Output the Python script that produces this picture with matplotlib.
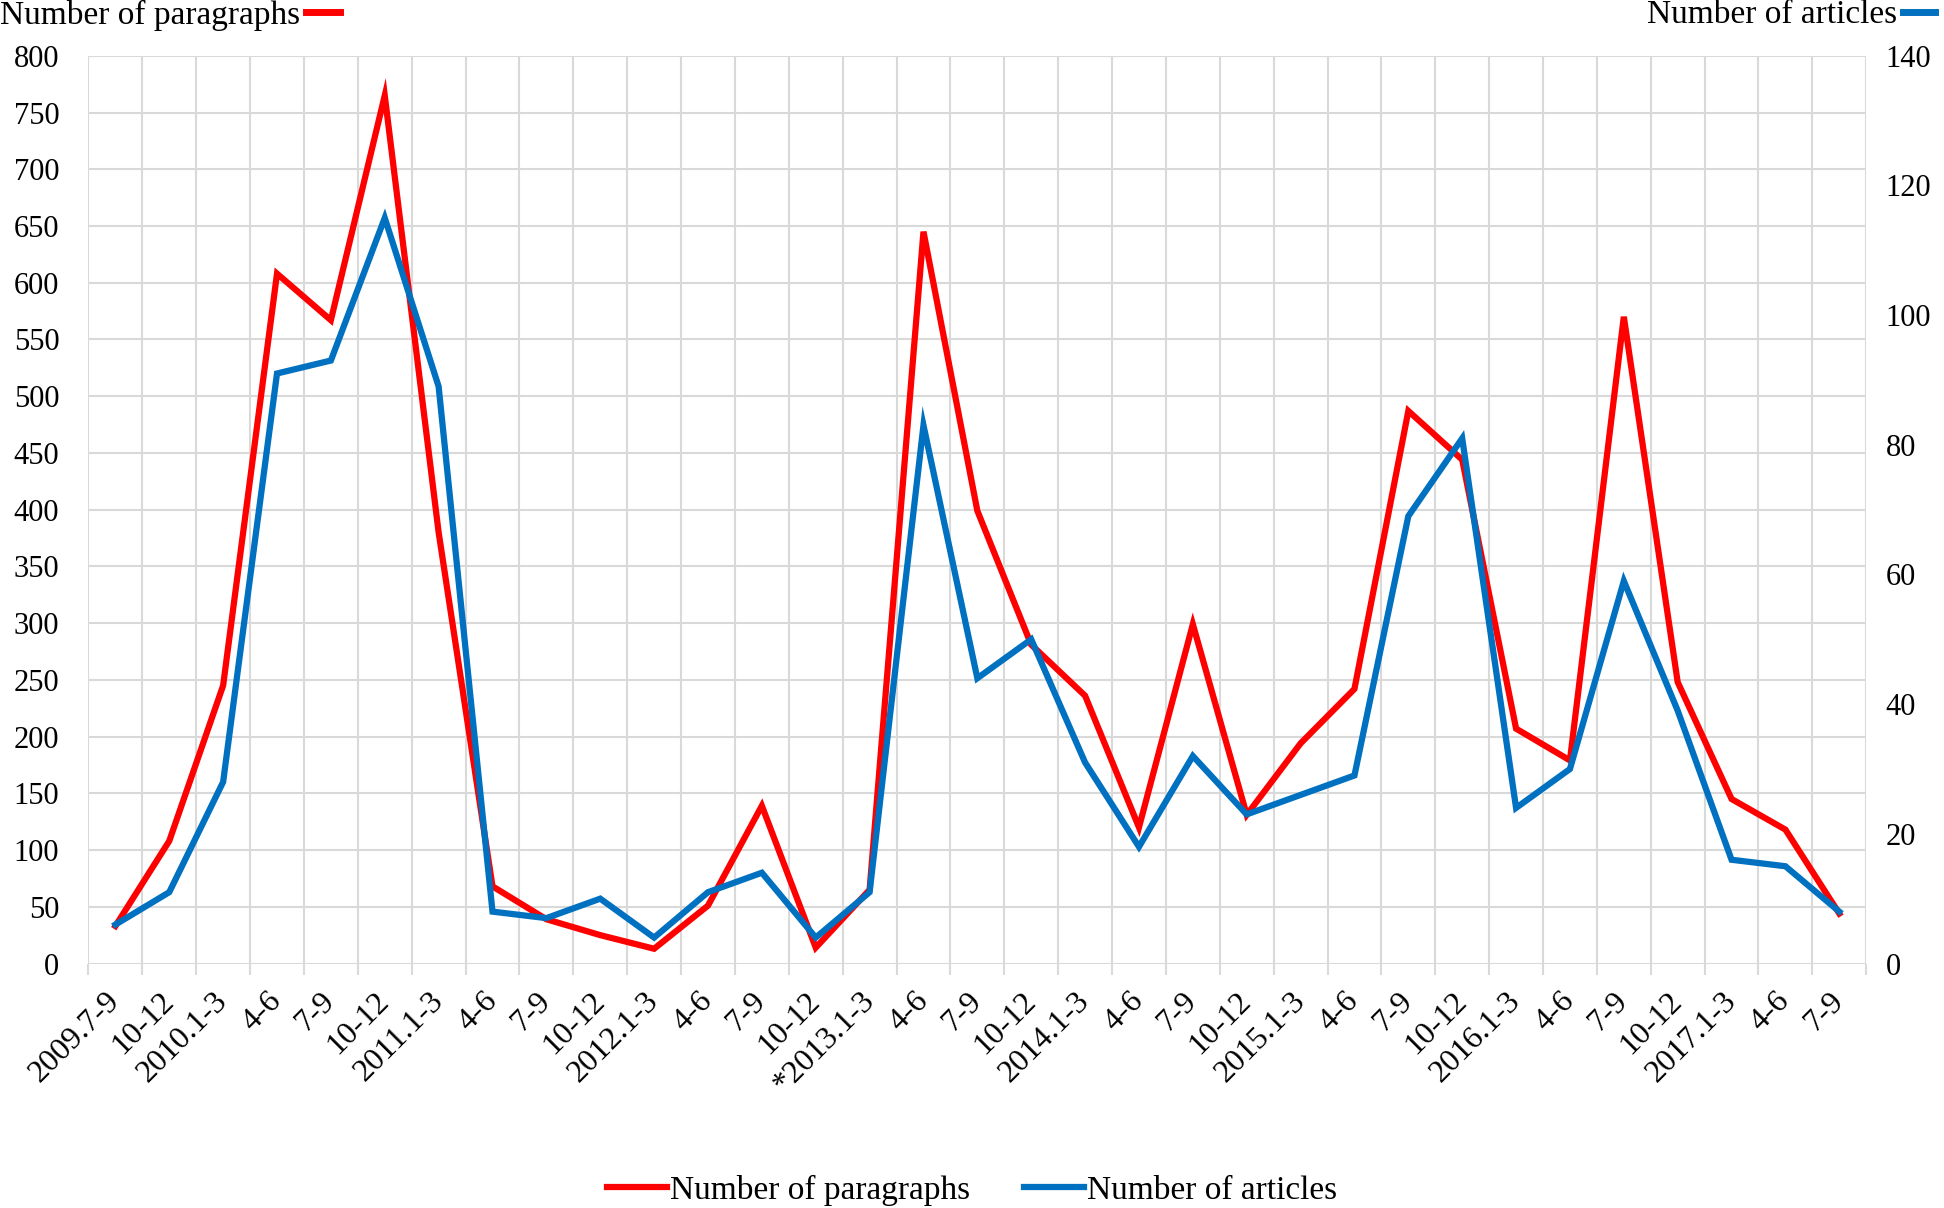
import numpy as np
import matplotlib
matplotlib.use("Agg")
import matplotlib.pyplot as plt
from matplotlib.lines import Line2D
import matplotlib.transforms as mtransforms

plt.rcParams['font.family'] = ['Liberation Serif', 'DejaVu Serif']

categories = ["2009.7-9", "10-12", "2010.1-3", "4-6", "7-9", "10-12",
              "2011.1-3", "4-6", "7-9", "10-12", "2012.1-3", "4-6", "7-9", "10-12",
              "*2013.1-3", "4-6", "7-9", "10-12", "2014.1-3", "4-6", "7-9", "10-12",
              "2015.1-3", "4-6", "7-9", "10-12", "2016.1-3", "4-6", "7-9", "10-12",
              "2017.1-3", "4-6", "7-9"]

paragraphs = [33, 108, 245, 608, 567, 765, 380, 68, 39, 25, 13, 51, 139, 14,
              65, 645, 399, 281, 236, 120, 299, 131, 194, 242, 487, 444, 207,
              179, 570, 248, 145, 118, 44]

articles = [6, 11, 28, 91, 93, 115, 89, 8, 7, 10, 4, 11, 14, 4,
            11, 83, 44, 50, 31, 18, 32, 23, 26, 29, 69, 81, 24,
            30, 59, 39, 16, 15, 8]

RED = "#FF0000"
BLUE = "#0070C0"
GRID = "#D9D9D9"
FS = 24
TFS = 22

fig = plt.figure(figsize=(19.44, 12.08), dpi=100)
ax = fig.add_axes([0.0455, 0.2024, 0.9145, 0.7514])
ax2 = ax.twinx()

x = np.arange(len(categories))
ax.plot(x, paragraphs, color=RED, lw=4.5, solid_joinstyle='miter', zorder=3)
ax2.plot(x, articles, color=BLUE, lw=4.5, solid_joinstyle='miter', zorder=3)

ax.set_xlim(-0.5, len(categories) - 0.5)
ax.set_ylim(0, 800)
ax2.set_ylim(0, 140)
ax.set_yticks(np.arange(0, 801, 50))
ax2.set_yticks(np.arange(0, 141, 20))

ax.set_xticks(x)
ax.set_xticklabels(categories, rotation=45, ha='right', va='top',
                   rotation_mode='anchor', fontsize=23)
ax.set_xticks(np.arange(-0.5, len(categories), 1), minor=True)
ax.tick_params(axis='x', which='major', length=0, pad=16.5)
ax.tick_params(axis='x', which='minor', length=8, color=GRID, width=1.5)
offset = mtransforms.ScaledTranslation(-10/100, 0, fig.dpi_scale_trans)
for lab in ax.get_xticklabels():
    lab.set_transform(lab.get_transform() + offset)

ax.tick_params(axis='y', length=0, labelsize=TFS, pad=21)
ax2.tick_params(axis='y', length=0, labelsize=TFS, pad=14)

ax.grid(True, axis='y', which='major', color=GRID, lw=1.5)
ax.grid(True, axis='x', which='minor', color=GRID, lw=1.5)
ax.set_axisbelow(True)
for a in (ax, ax2):
    for s in a.spines.values():
        s.set_visible(False)

# axis titles with colour keys
fig.text(0.0, 1 - 15/1208, "Number of paragraphs", fontsize=FS, ha='left', va='center')
fig.add_artist(Line2D([306/1944, 340/1944], [1 - 12/1208, 1 - 12/1208],
                      color=RED, lw=5, transform=fig.transFigure))
fig.text(1897/1944, 1 - 15/1208, "Number of articles", fontsize=FS, ha='right', va='center')
fig.add_artist(Line2D([1903/1944, 1935/1944], [1 - 12/1208, 1 - 12/1208],
                      color=BLUE, lw=5, transform=fig.transFigure))

handles = [Line2D([], [], color=RED, lw=4.5), Line2D([], [], color=BLUE, lw=4.5)]
fig.legend(handles, ["Number of paragraphs", "Number of articles"],
           loc='center', bbox_to_anchor=(0.5, 1 - 1190/1208), ncol=2,
           frameon=False, fontsize=FS, handlelength=1.8, handletextpad=0.1,
           columnspacing=1.6)

fig.savefig("out.png", dpi=100)
